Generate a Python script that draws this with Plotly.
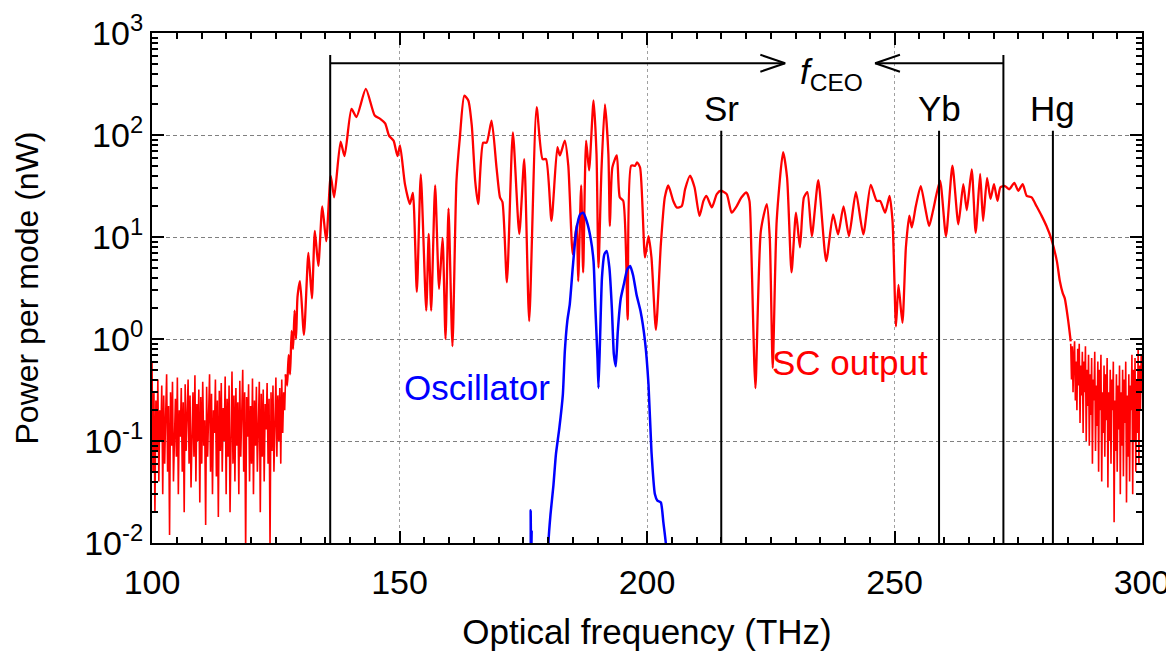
import numpy as np
import plotly.graph_objects as go

# ---------------- data ----------------
# Red: supercontinuum (SC) output, nW per mode
sc_noise_lo_vals = [0.6, 0.05, 0.3, 0.02, 0.25, 0.08, 0.4, 0.04, 0.2, 0.1, 0.35, 0.03, 0.28, 0.06, 0.18, 0.45,
                    0.05, 0.22, 0.012, 0.3, 0.09, 0.38, 0.04, 0.15, 0.26, 0.07, 0.42, 0.03, 0.2, 0.11, 0.33, 0.05,
                    0.24, 0.02, 0.36, 0.08, 0.17, 0.4, 0.06, 0.28, 0.035, 0.19, 0.3, 0.07, 0.44, 0.04, 0.23, 0.1,
                    0.32, 0.025, 0.27, 0.06, 0.38, 0.09, 0.16, 0.015, 0.34, 0.07, 0.22, 0.45, 0.05, 0.29, 0.03, 0.2,
                    0.12, 0.4, 0.045, 0.25, 0.018, 0.31, 0.08, 0.37, 0.05, 0.21, 0.1, 0.43, 0.03, 0.26, 0.07, 0.35,
                    0.02, 0.19, 0.48, 0.06, 0.28, 0.04, 0.33, 0.09, 0.24, 0.03, 0.39, 0.07, 0.2, 0.5, 0.05, 0.3,
                    0.008, 0.27, 0.11, 0.36, 0.04, 0.22, 0.06, 0.41, 0.03, 0.25, 0.09, 0.34, 0.05, 0.18, 0.38, 0.02,
                    0.29, 0.07, 0.32, 0.04, 0.23, 0.13, 0.37, 0.06, 0.26, 0.009, 0.3, 0.08, 0.35, 0.05, 0.21, 0.42,
                    0.07, 0.28, 0.1, 0.33, 0.06, 0.4, 0.12, 0.3, 0.2, 0.45]
sc_noise_lo_start, sc_noise_lo_end = 100.0, 127.0

sc_main_freq = [127.0, 127.3, 127.6, 127.9, 128.2, 128.5, 128.8, 129.1, 129.4, 129.9, 130.7, 131.6, 132.3, 132.9,
                133.6, 134.4, 135.2, 136.1, 136.8, 138.1, 138.9, 140.3, 141.3, 143.2, 145.0, 146.1, 147.1, 147.9,
                148.8, 149.6, 150.1, 151.1, 152.1, 152.7, 153.5, 154.3, 155.4, 155.9, 156.4, 157.2, 158.0, 158.7,
                159.3, 159.9, 160.7, 161.5, 162.2, 163.1, 163.9, 164.6, 165.3, 165.9, 166.9, 167.6, 168.6, 169.6,
                170.3, 170.8, 171.7, 172.9, 174.2, 175.2, 176.2, 177.7, 178.9, 179.6, 180.7, 181.9, 182.4, 183.4,
                184.1, 185.0, 185.8, 186.1, 186.7, 187.1, 187.7, 188.3, 189.2, 189.8, 190.2, 190.8, 191.5, 192.2,
                192.5, 193.0, 193.9, 194.5, 195.2, 196.1, 196.8, 197.6, 198.0, 198.6, 199.6, 200.3, 200.9, 201.8,
                202.8, 203.6, 204.3, 205.3, 206.0, 207.0, 207.7, 208.7, 209.6, 210.6, 211.4, 212.0, 213.1, 214.1,
                214.9, 216.1, 217.1, 218.1, 219.1, 220.1, 220.7, 221.1, 221.9, 223.0, 224.2, 224.8, 225.4, 226.2,
                227.5, 228.3, 229.2, 230.1, 230.9, 231.7, 232.4, 233.3, 234.6, 236.2, 237.6, 238.6, 239.7, 240.8,
                242.2, 243.7, 245.2, 246.4, 247.1, 248.1, 249.0, 249.6, 250.3, 250.8, 251.6, 252.3, 253.0, 253.5,
                254.3, 255.3, 256.2, 257.0, 257.8, 259.2, 260.4, 261.7, 262.9, 263.9, 264.6, 265.6, 266.4, 267.3,
                267.9, 268.7, 269.4, 270.1, 270.8, 271.4, 272.3, 273.2, 274.2, 275.0, 275.9, 276.7, 277.7, 278.7,
                279.7, 280.7, 281.7, 282.8, 283.4, 284.0, 284.4, 285.1, 285.6]
sc_main_vals = [0.45, 0.35, 0.7, 0.45, 1.2, 0.8, 1.9, 1.0, 2.6, 3.7, 1.1, 7.0, 2.5, 11.5,
                5.2, 20, 9.1, 40, 24.5, 86, 62, 180, 150, 283, 155, 144, 130, 98,
                88, 62, 79, 33, 21, 27, 2.9, 41, 1.9, 10.7, 1.9, 32, 3.1, 9.8,
                1.0, 19, 0.85, 35, 95, 243, 218, 124, 35, 21, 84, 84, 138, 48,
                24.5, 22, 3.6, 106, 10.7, 58, 1.5, 187, 58, 58, 14.4, 76, 63, 88,
                50, 6.8, 13.3, 3.7, 32, 4.5, 88, 45, 218, 65, 5.0, 45, 200, 65,
                12.8, 48, 63, 24.5, 22.6, 1.55, 50, 50, 54, 48, 6.3, 10.2, 6.3, 1.23,
                8.5, 24.5, 32, 22.6, 19.5, 20, 29.5, 40, 30.7, 16.1, 22.6, 25.3, 19.5, 26.3,
                28.4, 26.3, 17.3, 20, 24.5, 27.3, 22.6, 6.8, 0.33, 11.5, 21, 9.8, 0.52, 14.4,
                68, 38, 4.5, 17.3, 7.9, 24.5, 27.5, 10.2, 36, 5.8, 16.7, 10.6, 20, 10.2,
                27.5, 10.6, 32.5, 22.6, 22.6, 17.3, 25.3, 14.4, 1.33, 3.4, 1.44, 7.9, 16.2, 12.4,
                20, 31.6, 19.4, 12.8, 18.3, 35.6, 10.2, 50, 13.3, 33, 18.3, 46, 11, 41.5,
                14.4, 38, 23.6, 33, 22.6, 30.7, 31.6, 29.4, 34, 28.4, 33, 25.3, 24.5, 20,
                16.2, 12.8, 9.5, 5.8, 3.7, 2.8, 2.5, 1.5, 0.95]

sc_noise_hi_vals = [0.9, 0.4, 0.85, 0.3, 0.7, 0.95, 0.25, 0.6, 0.2, 0.8, 0.35, 0.9, 0.15, 0.55, 0.28, 0.75,
                    0.12, 0.6, 0.3, 0.85, 0.1, 0.5, 0.22, 0.7, 0.09, 0.45, 0.18, 0.65, 0.06, 0.4, 0.25, 0.75,
                    0.08, 0.35, 0.14, 0.6, 0.05, 0.5, 0.2, 0.7, 0.04, 0.3, 0.12, 0.55, 0.07, 0.45, 0.16, 0.65,
                    0.035, 0.3, 0.1, 0.5, 0.06, 0.4, 0.2, 0.6, 0.016, 0.25, 0.08, 0.45, 0.05, 0.35, 0.13, 0.55,
                    0.03, 0.3, 0.09, 0.5, 0.045, 0.4, 0.15, 0.6, 0.025, 0.28, 0.07, 0.45, 0.04, 0.35, 0.2, 0.7,
                    0.03, 0.5, 0.1, 0.65, 0.05, 0.4, 0.12, 0.8, 0.06, 0.55, 0.2, 0.7, 0.3]
sc_noise_hi_start, sc_noise_hi_end = 285.6, 300.0

# Blue: oscillator spectrum, nW per mode
osc_freq = [175.0, 176.45, 176.5, 176.6, 176.7, 176.8, 180.0, 180.1, 180.5, 181.1, 181.6, 182.3, 183.0, 183.4,
            183.9, 184.4, 185.0, 185.7, 186.5, 187.1, 187.8, 188.6, 189.2, 189.6, 190.0, 190.2, 190.5, 190.9,
            191.4, 191.85, 192.4, 192.9, 193.3, 193.7, 194.1, 194.7, 195.3, 196.0, 196.6, 197.2, 197.9, 198.7,
            199.6, 200.3, 200.9, 201.6, 202.1, 202.8, 203.3, 203.8, 205.0]
osc_vals = [0.001, 0.005, 0.021, 0.006, 0.013, 0.004, 0.004, 0.0103, 0.019, 0.037, 0.074, 0.135, 0.285, 0.76,
            1.5, 2.2, 5.0, 11.5, 16.7, 17.3, 14.4, 9.8, 5.8, 1.87, 0.65, 0.33, 0.95, 4.0,
            6.8, 7.3, 5.0, 2.0, 0.71, 0.54, 1.19, 2.5, 3.4, 4.8, 5.2, 4.2, 2.7, 1.87,
            0.95, 0.36, 0.079, 0.030, 0.026, 0.025, 0.016, 0.01, 0.001]

# Reference lines (THz) and f_CEO bracket
ref_names = ["Sr", "Yb", "Hg"]
ref_freqs = [215.0, 259.0, 282.0]
ref_top = 110.0
fceo_lo, fceo_hi = 136.0, 272.0
fceo_top = 608.0
fceo_level = 505.0
fceo_tip_right, fceo_tip_left = 227.9, 246.1

x_ticks = [100, 150, 200, 250, 300]
y_ticks = [1e-2, 1e-1, 1e0, 1e1, 1e2, 1e3]
y_ticktext = ["10<sup>-2</sup>", "10<sup>-1</sup>", "10<sup>0</sup>", "10<sup>1</sup>", "10<sup>2</sup>", "10<sup>3</sup>"]

# ---------------- figure ----------------
FONT = "Liberation Sans, Arial, Helvetica, sans-serif"
RED = "#ff0000"
BLUE = "#0000ff"
fig = go.Figure()

lo_freq = np.linspace(sc_noise_lo_start, sc_noise_lo_end, len(sc_noise_lo_vals))
hi_freq = np.linspace(sc_noise_hi_start, sc_noise_hi_end, len(sc_noise_hi_vals))

fig.add_trace(go.Scatter(x=lo_freq, y=sc_noise_lo_vals, mode="lines",
                         line=dict(color=RED, width=1.6), hoverinfo="skip", showlegend=False))
fig.add_trace(go.Scatter(x=hi_freq, y=sc_noise_hi_vals, mode="lines",
                         line=dict(color=RED, width=1.6), hoverinfo="skip", showlegend=False))
fig.add_trace(go.Scatter(x=sc_main_freq, y=sc_main_vals, mode="lines",
                         line=dict(color=RED, width=2.3, shape="spline", smoothing=0.6), showlegend=False))
fig.add_trace(go.Scatter(x=osc_freq, y=osc_vals, mode="lines",
                         line=dict(color=BLUE, width=2.5, shape="spline", smoothing=0.5), showlegend=False))

# reference vertical lines
for f in ref_freqs:
    fig.add_trace(go.Scatter(x=[f, f], y=[1e-3, ref_top], mode="lines",
                             line=dict(color="black", width=2), showlegend=False, hoverinfo="skip"))

# f_CEO bracket
for f in (fceo_lo, fceo_hi):
    fig.add_trace(go.Scatter(x=[f, f], y=[1e-3, fceo_top], mode="lines",
                             line=dict(color="black", width=2), showlegend=False, hoverinfo="skip"))
fig.add_trace(go.Scatter(x=[fceo_lo, fceo_tip_right], y=[fceo_level, fceo_level], mode="lines",
                         line=dict(color="black", width=2), showlegend=False, hoverinfo="skip"))
fig.add_trace(go.Scatter(x=[fceo_tip_left, fceo_hi], y=[fceo_level, fceo_level], mode="lines",
                         line=dict(color="black", width=2), showlegend=False, hoverinfo="skip"))
# chevrons
chev_dx = 5.0
chev_fac = 1.21
fig.add_trace(go.Scatter(x=[fceo_tip_right - chev_dx, fceo_tip_right, fceo_tip_right - chev_dx],
                         y=[fceo_level * chev_fac, fceo_level, fceo_level / chev_fac], mode="lines",
                         line=dict(color="black", width=2), showlegend=False, hoverinfo="skip"))
fig.add_trace(go.Scatter(x=[fceo_tip_left + chev_dx, fceo_tip_left, fceo_tip_left + chev_dx],
                         y=[fceo_level * chev_fac, fceo_level, fceo_level / chev_fac], mode="lines",
                         line=dict(color="black", width=2), showlegend=False, hoverinfo="skip"))

ann_font = dict(family=FONT, size=35, color="black")
annotations = []
for name, f in zip(ref_names, ref_freqs):
    annotations.append(dict(x=f, y=np.log10(180), text=name, showarrow=False, font=ann_font,
                            xanchor="center", yanchor="middle"))
annotations.append(dict(x=237.2, y=np.log10(400), text="<i>f</i><sub>CEO</sub>", showarrow=False,
                        font=ann_font, xanchor="center", yanchor="middle"))
annotations.append(dict(x=165.7, y=-0.48, text="Oscillator", showarrow=False,
                        font=dict(family=FONT, size=35, color=BLUE), xanchor="center", yanchor="middle"))
annotations.append(dict(x=241.0, y=-0.23, text="SC output", showarrow=False,
                        font=dict(family=FONT, size=35, color=RED), xanchor="center", yanchor="middle"))

fig.update_layout(
    width=1174, height=659,
    margin=dict(l=144, r=40, t=25, b=124, autoexpand=False),
    paper_bgcolor="white", plot_bgcolor="white",
    font=dict(family=FONT, size=33, color="black"),
    annotations=annotations,
    showlegend=False,
)
fig.update_xaxes(
    range=[100, 300], tickvals=x_ticks, ticks="inside", ticklen=12, tickwidth=1.5, tickcolor="black",
    showline=True, linecolor="black", linewidth=2, mirror="allticks", automargin=False,
    showgrid=True, gridcolor="#a0a0a0", griddash="3px,3px", gridwidth=1,
    minor=dict(dtick=5, ticks="inside", ticklen=6, tickwidth=1.5, tickcolor="black", showgrid=False),
    tickfont=dict(size=34), zeroline=False, ticklabelstandoff=8,
    title=dict(text="Optical frequency (THz)", font=dict(size=35), standoff=20),
)
minor_y = [m * 10.0 ** e for e in range(-2, 3) for m in range(2, 10)]
fig.update_yaxes(
    type="log", range=[-2, 3], tickvals=y_ticks, ticktext=y_ticktext,
    ticks="inside", ticklen=12, tickwidth=1.5, tickcolor="black",
    showline=True, linecolor="black", linewidth=2, mirror="allticks", automargin=False,
    showgrid=True, gridcolor="#808080", griddash="4px,3px", gridwidth=1,
    minor=dict(tickmode="array", tickvals=minor_y, ticks="inside", ticklen=6, tickwidth=1.5,
               tickcolor="black", showgrid=False),
    tickfont=dict(size=34), zeroline=False,
    title=dict(text="Power per mode (nW)", font=dict(size=32), standoff=36),
)

fig.write_html("out.html")
